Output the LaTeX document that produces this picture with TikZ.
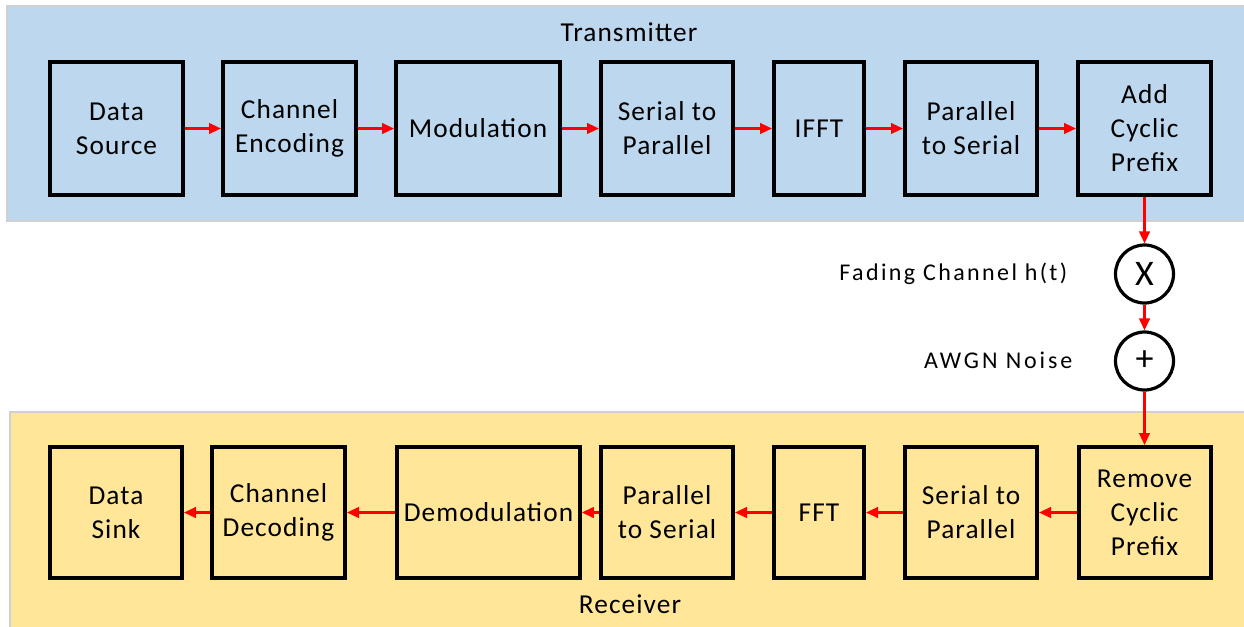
\documentclass[tikz,border=0pt]{standalone}
\usepackage{fontspec}
\setmainfont{Carlito}
\usetikzlibrary{arrows.meta}
\definecolor{txpanel}{HTML}{BDD7EE}
\definecolor{rxpanel}{HTML}{FFE699}
\definecolor{panelline}{HTML}{D0D0D0}
\definecolor{flowred}{HTML}{FF0000}
\tikzset{
  panel/.style={draw=panelline, line width=1.5pt},
  block/.style={draw=black, line width=3pt, inner sep=0pt, align=center,
    font=\fontsize{20.5pt}{25.5pt}\selectfont\addfontfeatures{LetterSpace=4}},
  mixer/.style={circle, draw=black, line width=2.4pt, minimum size=43.5pt, inner sep=0pt,
    font=\fontsize{27pt}{28pt}\selectfont},
  flow/.style={draw=flowred, line width=1.6pt, -{Triangle[length=9pt,width=8pt]}},
  caption/.style={font=\fontsize{20.5pt}{24pt}\selectfont\addfontfeatures{LetterSpace=4}},
  lbl/.style={anchor=east}
}
\begin{document}
\begin{tikzpicture}[x=0.75pt, y=-0.75pt]
\useasboundingbox (0,0) rectangle (1244,626);
\fill[white] (0,0) rectangle (1244,626);
% transmitter and receiver panels
\filldraw[panel, fill=txpanel] (7,6) rectangle (1250,221);
\filldraw[panel, fill=rxpanel] (10,412) rectangle (1250,640);
\node[caption] (txcap) at (629,32) {Transmitter};
\node[caption] (rxcap) at (630,604) {Receiver};
% transmitter chain
\node[block, minimum width=99.75pt, minimum height=99.75pt] (src) at (116.5,128.5) {Data\\Source};
\node[block, minimum width=99.75pt, minimum height=99.75pt] (enc) at (289.5,128.5) {Channel\\Encoding};
\node[block, minimum width=123pt, minimum height=99.75pt] (mod) at (478,128.5) {Modulation};
\node[block, minimum width=99pt, minimum height=99.75pt] (sp) at (667,128.5) {Serial to\\Parallel};
\node[block, minimum width=67.5pt, minimum height=99.75pt] (ifft) at (819,128.5) {IFFT};
\node[block, minimum width=99pt, minimum height=99.75pt] (ps) at (971,128.5) {Parallel\\to Serial};
\node[block, minimum width=99.75pt, minimum height=99.75pt] (acp) at (1144.5,128.5) {Add\\Cyclic\\Prefix};
% channel
\node[mixer] (fade) at (1144.5,274) {X};
\node[mixer] (awgn) at (1144.5,361) {+};
\node[lbl, font=\fontsize{18pt}{20pt}\selectfont\addfontfeatures{LetterSpace=10}] (fadelbl) at (1072,274) {Fading Channel h(t)};
\node[lbl, font=\fontsize{18pt}{20pt}\selectfont\addfontfeatures{LetterSpace=12}] (awgnlbl) at (1077,360) {AWGN Noise};
% receiver chain
\node[block, minimum width=99pt, minimum height=98.25pt] (rcp) at (1144.5,512.5) {Remove\\Cyclic\\Prefix};
\node[block, minimum width=99pt, minimum height=98.25pt] (rsp) at (971,512.5) {Serial to\\Parallel};
\node[block, minimum width=67.5pt, minimum height=98.25pt] (fft) at (819,512.5) {FFT};
\node[block, minimum width=99pt, minimum height=98.25pt] (rps) at (667,512.5) {Parallel\\to Serial};
\node[block, minimum width=137pt, minimum height=98.25pt] (dem) at (488.5,512.5) {Demodulation};
\node[block, minimum width=99.75pt, minimum height=98.25pt] (dec) at (278.5,512.5) {Channel\\Decoding};
\node[block, minimum width=99pt, minimum height=98.25pt] (sink) at (116,512.5) {Data\\Sink};
% signal flow
\draw[flow] (src) -- (enc);
\draw[flow] (enc) -- (mod);
\draw[flow] (mod) -- (sp);
\draw[flow] (sp) -- (ifft);
\draw[flow] (ifft) -- (ps);
\draw[flow] (ps) -- (acp);
\draw[flow] (acp) -- (fade);
\draw[flow] (fade) -- (awgn);
\draw[flow] (awgn) -- (rcp);
\draw[flow] (rcp) -- (rsp);
\draw[flow] (rsp) -- (fft);
\draw[flow] (fft) -- (rps);
\draw[flow] (rps) -- (dem);
\draw[flow] (dem) -- (dec);
\draw[flow] (dec) -- (sink);
\end{tikzpicture}
\end{document}
